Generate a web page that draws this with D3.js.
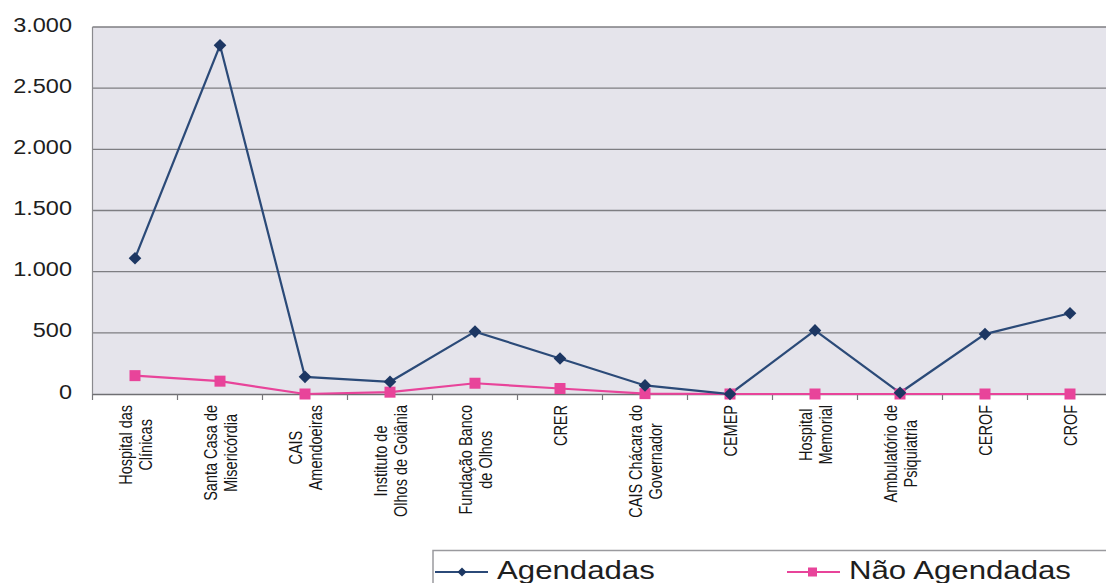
<!DOCTYPE html>
<html><head><meta charset="utf-8">
<script src="https://cdn.jsdelivr.net/npm/d3@7"></script>
<style>html,body{margin:0;padding:0;background:#fff;overflow:hidden}</style>
</head><body>
<svg id="c" width="1106" height="583"></svg>
<script>
const categories = ["Hospital das Clínicas","Santa Casa de Misericórdia","CAIS Amendoeiras","Instituto de Olhos de Goiânia","Fundação Banco de Olhos","CRER","CAIS Chácara do Governador","CEMEP","Hospital Memorial","Ambulatório de Psiquiatria","CEROF","CROF"];
const categoryLines = [["Hospital das","Clínicas"],["Santa Casa de","Misericórdia"],["CAIS","Amendoeiras"],["Instituto de","Olhos de Goiânia"],["Fundação Banco","de Olhos"],["CRER"],["CAIS Chácara do","Governador"],["CEMEP"],["Hospital","Memorial"],["Ambulatório de","Psiquiatria"],["CEROF"],["CROF"]];
const agendadas = [1110, 2850, 140, 100, 510, 290, 70, 0, 520, 10, 490, 660];
const naoAgendadas = [150, 105, 0, 15, 88, 45, 3, 0, 0, 0, 0, 0];
const yTicks = [0, 500, 1000, 1500, 2000, 2500, 3000];
const yTickLabels = ["0","500","1.000","1.500","2.000","2.500","3.000"];
const seriesNames = ["Agendadas","Não Agendadas"];

const svg = d3.select("#c");
const FONT = "Liberation Sans, Arial, sans-serif";
const x = d3.scaleBand().domain(categories).range([92.5, 1112.5]).paddingInner(0).paddingOuter(0);
const y = d3.scaleLinear().domain([0, 3000]).range([394, 27]);
const blue = "#2b4a78", blueM = "#1d3763", pink = "#e8449a";

svg.append("rect").attr("x", x.range()[0]).attr("y", y(3000)).attr("width", x.range()[1]-x.range()[0]).attr("height", y(0)-y(3000)).attr("fill", "#e5e4eb");

svg.append("g").selectAll("line").data(yTicks.filter(d=>d>0)).join("line")
  .attr("x1", x.range()[0]).attr("x2", x.range()[1])
  .attr("y1", d=>y(d)).attr("y2", d=>y(d))
  .attr("stroke", "#7e7e82").attr("stroke-width", 1.4);

svg.append("line").attr("x1", 92.5).attr("x2", 92.5).attr("y1", y(3000)).attr("y2", y(0)).attr("stroke","#8a8a8e").attr("stroke-width",1.2);

const yl = svg.append("g").selectAll("g").data(yTicks).join("g")
  .attr("transform", d=>`translate(72,${y(d)-3}) scale(1.12,1)`);
yl.append("text").attr("text-anchor","end").attr("dy","0.36em")
  .attr("font-family", FONT).attr("font-size", 21).attr("fill","#1e1e1e")
  .text((d,i)=>yTickLabels[i]);

const xa = svg.append("g").attr("transform", `translate(0,${y(0)})`)
  .call(d3.axisBottom(x).tickSize(0).tickFormat(""));
xa.select(".domain").attr("stroke","#6f6f73").attr("stroke-width",1.6);
const bounds = categories.map(c=>x(c)).concat([x.range()[1]]);
svg.append("g").selectAll("line").data(bounds).join("line")
  .attr("x1", d=>d).attr("x2", d=>d).attr("y1", y(0)).attr("y2", y(0)+6)
  .attr("stroke","#77777b").attr("stroke-width",1.2);

const lh = 15.5;
categories.forEach((c, i) => {
  const lines = categoryLines[i];
  const g = svg.append("g").attr("transform", `translate(${x(c)+x.bandwidth()/2},405) rotate(-90) scale(1,1.3)`);
  const texts = lines.map((t, j) => g.append("text")
    .attr("font-family", FONT).attr("font-size", 14.5).attr("fill", "#161616")
    .attr("text-anchor","middle")
    .attr("y", (j - (lines.length-1)/2) * lh)
    .attr("dy", "0.36em")
    .text(t));
  const L = d3.max(texts, t => t.node().getComputedTextLength());
  texts.forEach(t => t.attr("x", -L/2));
});

const line = d3.line().x((d,i)=>x(categories[i])+x.bandwidth()/2).y(d=>y(d));
svg.append("path").datum(naoAgendadas).attr("d", line).attr("fill","none").attr("stroke",pink).attr("stroke-width",2.2);
svg.append("path").datum(agendadas).attr("d", line).attr("fill","none").attr("stroke",blue).attr("stroke-width",2.2);

const diamond = d3.symbol().type(d3.symbolSquare).size(80);
svg.append("g").selectAll("rect").data(naoAgendadas).join("rect")
  .attr("x",(d,i)=>x(categories[i])+x.bandwidth()/2-5.5).attr("y",d=>y(d)-5.5)
  .attr("width",11).attr("height",11).attr("fill",pink);
svg.append("g").selectAll("path").data(agendadas).join("path")
  .attr("d", diamond)
  .attr("transform",(d,i)=>`translate(${x(categories[i])+x.bandwidth()/2},${y(d)}) rotate(45)`)
  .attr("fill",blueM);

svg.append("path").attr("d","M433,583 V550.5 H1106").attr("fill","none").attr("stroke","#9a9a9e").attr("stroke-width",1.5);
const legY = 572;
const leg = [
  {name: seriesNames[0], color: blue, x0: 435},
  {name: seriesNames[1], color: pink, x0: 787}
];
leg.forEach((l, i) => {
  svg.append("line").attr("x1", l.x0).attr("x2", l.x0+53).attr("y1", legY).attr("y2", legY).attr("stroke", l.color).attr("stroke-width", 2);
  if (i === 0) {
    svg.append("path").attr("d", d3.symbol().type(d3.symbolSquare).size(40)).attr("transform", `translate(${l.x0+27},${legY}) rotate(45)`).attr("fill", blueM);
  } else {
    svg.append("rect").attr("x", l.x0+21).attr("y", legY-4.5).attr("width",9).attr("height",9).attr("fill", pink);
  }
  svg.append("g").attr("transform", `translate(${l.x0+62},579) scale(1.2,1)`)
    .append("text").attr("font-family", FONT).attr("font-size", 26).attr("fill","#1e1e1e").text(l.name);
});
</script>
</body></html>
